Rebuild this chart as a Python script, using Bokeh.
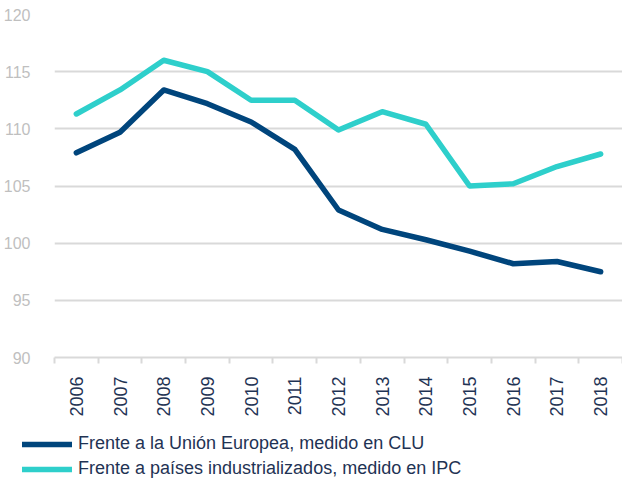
from bokeh.plotting import figure
from bokeh.models import Range1d, FixedTicker, Legend, LegendItem
from bokeh.layouts import column
from bokeh.embed import file_html
from bokeh.resources import INLINE
import math

years = [2006, 2007, 2008, 2009, 2010, 2011, 2012, 2013, 2014, 2015, 2016, 2017, 2018]
ue_clu = [107.9, 109.7, 113.4, 112.2, 110.6, 108.2, 102.9, 101.2, 100.3, 99.3, 98.2, 98.4, 97.5]
ind_ipc = [111.3, 113.4, 116.0, 115.0, 112.5, 112.5, 109.9, 111.5, 110.4, 105.0, 105.2, 106.7, 107.8]
y_ticks = [90, 95, 100, 105, 110, 115, 120]
labels = ["Frente a la Unión Europea, medido en CLU",
          "Frente a países industrializados, medido en IPC"]

DARK = "#00457c"
CYAN = "#2ecfcb"
GRID = "#d9d9d9"
TEXT = "#1f3354"
FONT = "Liberation Sans"
LW = 5.5

p = figure(width=622, height=425, output_backend="svg", toolbar_location=None,
           x_range=Range1d(years[0] - 0.5, years[-1] + 0.5),
           y_range=Range1d(90, 120))
p.min_border_left = 53
p.min_border_right = 0
p.min_border_top = 14
p.min_border_bottom = 68
p.outline_line_color = None
p.frame_align = False

p.line(years, ue_clu, line_color=DARK, line_width=LW, line_cap="round", line_join="round")
p.line(years, ind_ipc, line_color=CYAN, line_width=LW, line_cap="round", line_join="round")

p.xgrid.grid_line_color = None
p.ygrid.grid_line_color = GRID
p.ygrid.grid_line_width = 2
p.ygrid.ticker = FixedTicker(ticks=y_ticks)

ya = p.yaxis[0]
ya.ticker = FixedTicker(ticks=y_ticks)
ya.axis_line_color = None
ya.major_tick_line_color = None
ya.minor_tick_line_color = None
ya.major_label_text_color = "#bfbfbf"
ya.major_label_text_font = FONT
ya.major_label_text_font_size = "16px"
ya.major_label_standoff = 18

xa = p.xaxis[0]
bounds = [y - 0.5 for y in years] + [years[-1] + 0.5]
xa.ticker = FixedTicker(ticks=years, minor_ticks=bounds)
xa.axis_line_color = GRID
xa.axis_line_width = 2
xa.major_tick_line_color = None
xa.major_tick_out = 0
xa.major_tick_in = 0
xa.minor_tick_line_color = GRID
xa.minor_tick_line_width = 2
xa.minor_tick_out = 6
xa.minor_tick_in = 0
xa.major_label_orientation = math.pi / 2
xa.major_label_text_color = TEXT
xa.major_label_text_font = FONT
xa.major_label_text_font_size = "18px"
xa.major_label_standoff = 13

# legend strip below the chart
lg = figure(width=622, height=56, output_backend="svg", toolbar_location=None,
            x_range=Range1d(0, 1), y_range=Range1d(0, 1))
lg.min_border_left = 0
lg.min_border_right = 0
lg.min_border_top = 0
lg.min_border_bottom = 0
lg.outline_line_color = None
lg.frame_align = False
lg.axis.visible = False
lg.grid.visible = False
l1 = lg.line(years, ue_clu, line_color=DARK, line_width=LW, line_cap="round")
l2 = lg.line(years, ind_ipc, line_color=CYAN, line_width=LW, line_cap="round")

legend = Legend(items=[LegendItem(label=labels[0], renderers=[l1]),
                       LegendItem(label=labels[1], renderers=[l2])],
                location=(22, 2), orientation="vertical")
legend.border_line_color = None
legend.background_fill_alpha = 0
legend.padding = 0
legend.margin = 0
legend.spacing = 4
legend.glyph_width = 50
legend.glyph_height = 20
legend.label_height = 20
legend.label_standoff = 6
legend.label_text_font = FONT
legend.label_text_font_size = "18px"
legend.label_text_color = TEXT
lg.add_layout(legend, "center")

layout = column(p, lg, spacing=0)
open("out.html", "w").write(file_html(layout, INLINE))
